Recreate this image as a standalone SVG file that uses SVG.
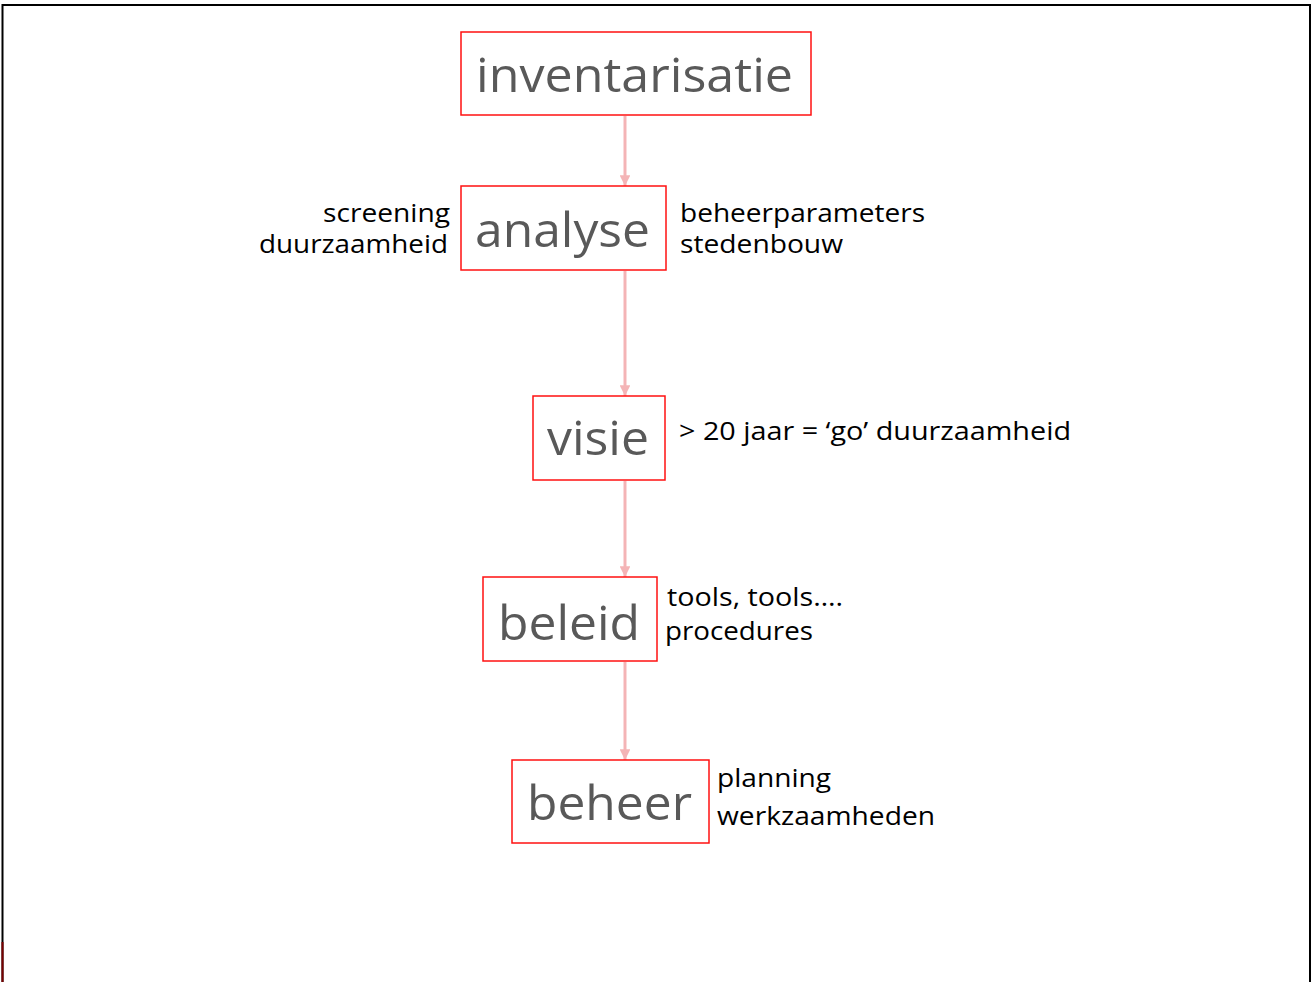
<svg xmlns="http://www.w3.org/2000/svg" width="1312" height="982" viewBox="0 0 1312 982">
<defs>
<style>
.box{fill:#fff;stroke:#ff1010;stroke-width:1.5}
.nt{font-family:"Open Sans","Noto Sans",sans-serif;font-size:47px;fill:#595959}
.lb{font-family:"Open Sans","Noto Sans",sans-serif;font-size:25.5px;fill:#000}
.cn{stroke:#f4b4b6;stroke-width:3;fill:none;marker-end:url(#ah)}
</style>
<marker id="ah" viewBox="0 0 10 10" refX="10" refY="5" markerWidth="3.6" markerHeight="3.6" orient="auto" markerUnits="strokeWidth">
<path d="M0,0 L10,5 L0,10 z" fill="#f4b4b6"/>
</marker>
</defs>
<rect x="0" y="0" width="1312" height="982" fill="#fff"/>
<path d="M2.5,982 V5 H1310 V982" fill="none" stroke="#000" stroke-width="2"/>
<line x1="2.5" y1="942" x2="2.5" y2="982" stroke="#7a0000" stroke-width="2"/>
<g id="connectors">
<line class="cn" x1="625" y1="116" x2="625" y2="186"/>
<line class="cn" x1="625" y1="271" x2="625" y2="396"/>
<line class="cn" x1="625" y1="481" x2="625" y2="577"/>
<line class="cn" x1="625" y1="662" x2="625" y2="760"/>
</g>
<g id="inventarisatie">
<rect class="box" x="461" y="32" width="350" height="83"/>
<text class="nt" x="476" y="92" textLength="317" lengthAdjust="spacingAndGlyphs">inventarisatie</text>
</g>
<g id="analyse">
<rect class="box" x="461" y="186" width="205" height="84"/>
<text class="nt" x="475" y="247" textLength="175" lengthAdjust="spacingAndGlyphs">analyse</text>
<text class="lb" x="450" y="222" text-anchor="end" textLength="127" lengthAdjust="spacingAndGlyphs">screening</text>
<text class="lb" x="448" y="253" text-anchor="end" textLength="189" lengthAdjust="spacingAndGlyphs">duurzaamheid</text>
<text class="lb" x="680" y="222" textLength="245" lengthAdjust="spacingAndGlyphs">beheerparameters</text>
<text class="lb" x="680" y="253" textLength="163" lengthAdjust="spacingAndGlyphs">stedenbouw</text>
</g>
<g id="visie">
<rect class="box" x="533" y="396" width="132" height="84"/>
<text class="nt" x="547" y="455" textLength="102" lengthAdjust="spacingAndGlyphs">visie</text>
<text class="lb" x="679" y="440" textLength="392" lengthAdjust="spacingAndGlyphs">&gt; 20 jaar = ‘go’ duurzaamheid</text>
</g>
<g id="beleid">
<rect class="box" x="483" y="577" width="174" height="84"/>
<text class="nt" x="498" y="640" textLength="142" lengthAdjust="spacingAndGlyphs">beleid</text>
<text class="lb" x="667" y="606" textLength="176" lengthAdjust="spacingAndGlyphs">tools, tools….</text>
<text class="lb" x="665" y="640" textLength="148" lengthAdjust="spacingAndGlyphs">procedures</text>
</g>
<g id="beheer">
<rect class="box" x="512" y="760" width="197" height="83"/>
<text class="nt" x="527" y="820" textLength="165" lengthAdjust="spacingAndGlyphs">beheer</text>
<text class="lb" x="717" y="787" textLength="114" lengthAdjust="spacingAndGlyphs">planning</text>
<text class="lb" x="717" y="825" textLength="218" lengthAdjust="spacingAndGlyphs">werkzaamheden</text>
</g>
</svg>
